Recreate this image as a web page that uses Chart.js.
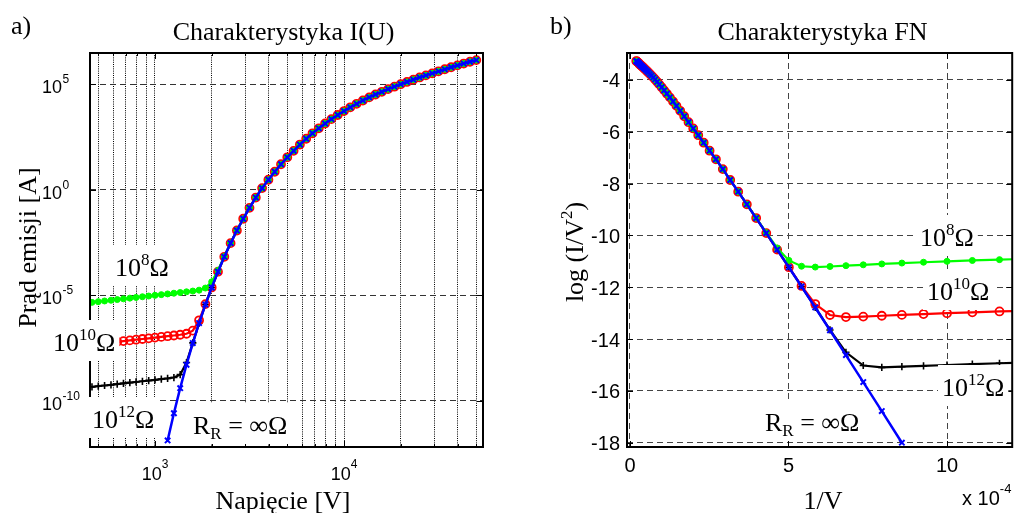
<!DOCTYPE html>
<html>
<head>
<meta charset="utf-8">
<script src="https://cdn.jsdelivr.net/npm/chart.js@4.4.1/dist/chart.umd.min.js"></script>
<style>
  html, body { margin: 0; padding: 0; background: #fff; width: 1018px; height: 513px; overflow: hidden; }
  canvas { position: absolute; top: 0; }
  #chartIU { left: 0; }
  #chartFN { left: 509px; }
</style>
</head>
<body>
<canvas id="chartIU" width="509" height="513"></canvas>
<canvas id="chartFN" width="509" height="513"></canvas>
<script>
// Voltage sweep [V]
const voltage = [464, 501, 541, 585, 631, 681, 736, 794, 858, 926,
  1000, 1080, 1166, 1259, 1359, 1468, 1585, 1711, 1848, 1995,
  2154, 2326, 2512, 2712, 2929, 3162, 3415, 3687, 3981, 4299,
  4642, 5012, 5412, 5843, 6310, 6813, 7356, 7943, 8577, 9261,
  10000, 10798, 11659, 12589, 13594, 14678, 15849, 17113, 18478, 19953,
  21544, 23263, 25119, 27123, 29286, 31623, 34145, 36869, 39811, 42987,
  46416, 50119];

// log10 of the emission current [A] for each leakage resistance R_R
const logI_R8 = [-5.333, -5.300, -5.267, -5.233, -5.200, -5.167, -5.133, -5.100, -5.067, -5.033,
  -5.000, -4.967, -4.933, -4.900, -4.867, -4.833, -4.798, -4.755, -4.655, -4.363,
  -3.817, -3.162, -2.526, -1.932, -1.377, -0.860, -0.373, 0.073, 0.470, 0.847,
  1.203, 1.530, 1.837, 2.133, 2.410, 2.667, 2.903, 3.130, 3.337, 3.533,
  3.720, 3.897, 4.063, 4.220, 4.367, 4.503, 4.630, 4.757, 4.873, 4.990,
  5.097, 5.203, 5.310, 5.407, 5.503, 5.600, 5.697, 5.793, 5.880, 5.967,
  6.053, 6.130];

const logI_R10 = [-7.333, -7.300, -7.267, -7.233, -7.200, -7.167, -7.133, -7.100, -7.067, -7.033,
  -7.000, -6.967, -6.933, -6.900, -6.866, -6.818, -6.671, -6.182, -5.416, -4.626,
  -3.882, -3.177, -2.530, -1.933, -1.377, -0.860, -0.373, 0.073, 0.470, 0.847,
  1.203, 1.530, 1.837, 2.133, 2.410, 2.667, 2.903, 3.130, 3.337, 3.533,
  3.720, 3.897, 4.063, 4.220, 4.367, 4.503, 4.630, 4.757, 4.873, 4.990,
  5.097, 5.203, 5.310, 5.407, 5.503, 5.600, 5.697, 5.793, 5.880, 5.967,
  6.053, 6.130];

const logI_R12 = [-9.333, -9.300, -9.267, -9.233, -9.200, -9.167, -9.133, -9.100, -9.067, -9.033,
  -9.000, -8.967, -8.933, -8.891, -8.754, -8.178, -7.248, -6.312, -5.437, -4.630,
  -3.883, -3.177, -2.530, -1.933, -1.377, -0.860, -0.373, 0.073, 0.470, 0.847,
  1.203, 1.530, 1.837, 2.133, 2.410, 2.667, 2.903, 3.130, 3.337, 3.533,
  3.720, 3.897, 4.063, 4.220, 4.367, 4.503, 4.630, 4.757, 4.873, 4.990,
  5.097, 5.203, 5.310, 5.407, 5.503, 5.600, 5.697, 5.793, 5.880, 5.967,
  6.053, 6.130];

const logI_Rinf = [null, null, null, null, null, null, null, null, null, null,
  null, null, -11.867, -10.580, -9.393, -8.287, -7.260, -6.313, -5.437, -4.630,
  -3.883, -3.177, -2.530, -1.933, -1.377, -0.860, -0.373, 0.073, 0.470, 0.847,
  1.203, 1.530, 1.837, 2.133, 2.410, 2.667, 2.903, 3.130, 3.337, 3.533,
  3.720, 3.897, 4.063, 4.220, 4.367, 4.503, 4.630, 4.757, 4.873, 4.990,
  5.097, 5.203, 5.310, 5.407, 5.503, 5.600, 5.697, 5.793, 5.880, 5.967,
  6.053, 6.130];

// Axis ticks
const xTicksIU = [500, 600, 700, 800, 900, 1000, 2000, 3000, 4000, 5000, 6000, 7000, 8000, 9000,
  10000, 20000, 30000, 40000, 50000];
const xLabelsIU = [1000, 10000];
const yTicksIU = [1e-10, 1e-5, 1, 1e5];
const xTicksFN = [0, 5, 10];
const yTicksFN = [-4, -6, -8, -10, -12, -14, -16, -18];

const SERIF = '"Liberation Serif", "Times New Roman", serif';
const SANS = '"Liberation Sans", Arial, sans-serif';

// I(U) point and Fowler-Nordheim point (1/V in units of 1e-4, log10(I/V^2))
function toPoints(logs, mode) {
  const pts = [];
  logs.forEach((li, i) => {
    if (li === null) return;
    const v = voltage[i];
    if (mode === 'IU') pts.push({ x: v, y: Math.pow(10, li) });
    else pts.push({ x: 1e4 / v, y: li - 2 * Math.log10(v) });
  });
  return pts;
}

// first entry is drawn on top
const SERIES = [
  { logs: logI_Rinf, color: '#0000ff', style: 'crossRot', radius: 3.8, fill: 'rgba(0,0,0,0)', line: 2.5, pw: 2 },
  { logs: logI_R8,   color: '#00ff00', style: 'circle',   radius: 3.0, fill: '#00ff00',       line: 2.2, pw: 1 },
  { logs: logI_R10,  color: '#ff0000', style: 'circle',   radius: 4.0, fill: 'rgba(0,0,0,0)', line: 2.2, pw: 1.8 },
  { logs: logI_R12,  color: '#000000', style: 'cross',    radius: 3.6, fill: 'rgba(0,0,0,0)', line: 2.2, pw: 1.6 }
];

function datasets(mode) {
  return SERIES.map(s => ({
    data: toPoints(s.logs, mode),
    borderColor: s.color,
    backgroundColor: s.fill,
    borderWidth: s.line,
    tension: 0,
    pointStyle: s.style,
    pointRadius: s.radius,
    pointHoverRadius: s.radius,
    pointBorderColor: s.color,
    pointBackgroundColor: s.fill,
    pointBorderWidth: s.pw
  }));
}

// ---- text helpers ----
function font(size, fam) { return size + 'px ' + fam; }

function richWidth(ctx, parts) {
  let w = 0;
  for (const p of parts) { ctx.font = p.font; w += ctx.measureText(p.t).width; }
  return w;
}

function drawRich(ctx, parts, x, y, align) {
  const w = richWidth(ctx, parts);
  let cx = align === 'center' ? x - w / 2 : align === 'right' ? x - w : x;
  ctx.textAlign = 'left';
  ctx.textBaseline = 'alphabetic';
  for (const p of parts) {
    ctx.font = p.font;
    ctx.fillText(p.t, cx, y + (p.dy || 0));
    cx += ctx.measureText(p.t).width;
  }
  return w;
}

function ohmLabel(exp) {
  return [
    { t: '10', font: font(26, SERIF) },
    { t: exp, font: font(17, SERIF), dy: -11 },
    { t: 'Ω', font: font(26, SERIF) }
  ];
}
function infLabel() {
  return [
    { t: 'R', font: font(26, SERIF) },
    { t: 'R', font: font(17, SERIF), dy: 5 },
    { t: ' = ∞Ω', font: font(26, SERIF) }
  ];
}

// text on a white background box
function boxedLabel(ctx, parts, x, y) {
  const w = richWidth(ctx, parts);
  ctx.fillStyle = '#fff';
  ctx.fillRect(x - 4, y - 31, w + 8, 41);
  ctx.fillStyle = '#000';
  drawRich(ctx, parts, x, y, 'left');
}

function frame(chart) {
  const { ctx, chartArea: a } = chart;
  ctx.strokeStyle = '#000';
  ctx.lineWidth = 2;
  ctx.setLineDash([]);
  ctx.strokeRect(a.left, a.top, a.right - a.left, a.bottom - a.top);
}

function innerTicks(chart, xList, yList) {
  const { ctx, chartArea: a, scales } = chart;
  ctx.strokeStyle = '#000';
  ctx.lineWidth = 1;
  ctx.setLineDash([]);
  ctx.beginPath();
  for (const t of xList) {
    const px = Math.round(scales.x.getPixelForValue(t.v)) + 0.5;
    ctx.moveTo(px, a.bottom); ctx.lineTo(px, a.bottom - t.len);
    ctx.moveTo(px, a.top); ctx.lineTo(px, a.top + t.len);
  }
  for (const t of yList) {
    const py = Math.round(scales.y.getPixelForValue(t.v)) + 0.5;
    ctx.moveTo(a.left, py); ctx.lineTo(a.left + t.len, py);
    ctx.moveTo(a.right, py); ctx.lineTo(a.right - t.len, py);
  }
  ctx.stroke();
}

function rotatedText(ctx, parts, x, y) {
  ctx.save();
  ctx.translate(x, y);
  ctx.rotate(-Math.PI / 2);
  drawRich(ctx, parts, 0, 0, 'center');
  ctx.restore();
}

// ---- panel a) decorations ----
const decorIU = {
  id: 'decorIU',
  afterDraw(chart) {
    const ctx = chart.ctx;
    const xs = chart.scales.x, ys = chart.scales.y;
    ctx.save();
    frame(chart);
    innerTicks(chart,
      xTicksIU.map(v => ({ v, len: xLabelsIU.includes(v) ? 6 : 3 })),
      yTicksIU.map(v => ({ v, len: 6 })));

    ctx.fillStyle = '#000';
    // y tick labels 10^n
    for (const v of yTicksIU) {
      const py = ys.getPixelForValue(v);
      const e = String(Math.round(Math.log10(v)));
      ctx.textBaseline = 'alphabetic';
      ctx.font = font(18, SANS);
      ctx.textAlign = 'right';
      ctx.fillText('10', 62, py + 9);
      ctx.font = font(12, SANS);
      ctx.textAlign = 'left';
      ctx.fillText(e, 62.5, py - 1);
    }
    // x tick labels 10^n
    for (const v of xLabelsIU) {
      const px = xs.getPixelForValue(v);
      const e = String(Math.round(Math.log10(v)));
      drawRich(ctx, [
        { t: '10', font: font(18, SANS) },
        { t: e, font: font(12, SANS), dy: -12 }
      ], px, 480, 'center');
    }
    // titles
    drawRich(ctx, [{ t: 'a)', font: font(26, SERIF) }], 11, 34, 'left');
    drawRich(ctx, [{ t: 'Charakterystyka I(U)', font: font(26, SERIF) }], 283.5, 40, 'center');
    drawRich(ctx, [{ t: 'Napięcie [V]', font: font(26, SERIF) }], 283, 509, 'center');
    rotatedText(ctx, [{ t: 'Prąd emisji [A]', font: font(26, SERIF) }], 36, 247.5);

    // curve labels
    boxedLabel(ctx, ohmLabel('8'), 115, 276);
    boxedLabel(ctx, ohmLabel('10'), 53, 351);
    boxedLabel(ctx, ohmLabel('12'), 92, 428);
    boxedLabel(ctx, infLabel(), 193, 434);
    ctx.restore();
  }
};

// ---- panel b) decorations ----
const decorFN = {
  id: 'decorFN',
  afterDraw(chart) {
    const ctx = chart.ctx;
    const xs = chart.scales.x, ys = chart.scales.y;
    ctx.save();
    frame(chart);
    innerTicks(chart,
      xTicksFN.map(v => ({ v, len: 6 })),
      yTicksFN.map(v => ({ v, len: 6 })));

    ctx.fillStyle = '#000';
    ctx.font = font(20, SANS);
    ctx.textBaseline = 'alphabetic';
    for (const v of yTicksFN) {
      ctx.textAlign = 'right';
      ctx.fillText(String(v), 111, ys.getPixelForValue(v) + 7.5);
    }
    for (const v of xTicksFN) {
      ctx.textAlign = 'center';
      ctx.fillText(String(v), xs.getPixelForValue(v), 472);
    }
    drawRich(ctx, [
      { t: 'x 10', font: font(20, SANS) },
      { t: '-4', font: font(13, SANS), dy: -12 }
    ], 453, 505, 'left');

    drawRich(ctx, [{ t: 'b)', font: font(26, SERIF) }], 41, 34, 'left');
    drawRich(ctx, [{ t: 'Charakterystyka FN', font: font(26, SERIF) }], 313.5, 40, 'center');
    drawRich(ctx, [{ t: '1/V', font: font(26, SERIF) }], 314, 509, 'center');
    rotatedText(ctx, [
      { t: 'log (I/V', font: font(26, SERIF) },
      { t: '2', font: font(17, SERIF), dy: -11 },
      { t: ')', font: font(26, SERIF) }
    ], 74, 252);

    boxedLabel(ctx, ohmLabel('8'), 411, 246);
    boxedLabel(ctx, ohmLabel('10'), 418, 300);
    boxedLabel(ctx, ohmLabel('12'), 433, 396);
    boxedLabel(ctx, infLabel(), 256, 431);
    ctx.restore();
  }
};

function common(padding) {
  return {
    responsive: false,
    animation: false,
    devicePixelRatio: 1,
    events: [],
    layout: { padding },
    plugins: { legend: { display: false }, tooltip: { enabled: false } }
  };
}

// panel a) I(U) on log-log axes
new Chart(document.getElementById('chartIU'), {
  type: 'line',
  data: { datasets: datasets('IU') },
  options: Object.assign(common({ left: 0, top: 53, right: 26, bottom: 0 }), {
    scales: {
      x: {
        type: 'logarithmic', min: 453, max: 54380,
        afterFit: s => { s.height = 66; },
        afterBuildTicks: s => { s.ticks = xTicksIU.map(v => ({ value: v })); },
        ticks: { display: false },
        grid: { color: '#000', lineWidth: 1, drawTicks: false },
        border: { display: false, dash: [1, 1.2] }
      },
      y: {
        type: 'logarithmic', min: Math.pow(10, -12.177), max: Math.pow(10, 6.467),
        afterFit: s => { s.width = 90; },
        afterBuildTicks: s => { s.ticks = yTicksIU.map(v => ({ value: v })); },
        ticks: { display: false },
        grid: { color: '#333', lineWidth: 1, drawTicks: false },
        border: { display: false, dash: [6, 4] }
      }
    }
  }),
  plugins: [decorIU]
});

// panel b) Fowler-Nordheim plot
new Chart(document.getElementById('chartFN'), {
  type: 'line',
  data: { datasets: datasets('FN') },
  options: Object.assign(common({ left: 0, top: 53, right: 1, bottom: 0 }), {
    scales: {
      x: {
        type: 'linear', min: -0.093, max: 12.056,
        afterFit: s => { s.height = 66; },
        afterBuildTicks: s => { s.ticks = xTicksFN.map(v => ({ value: v })); },
        ticks: { display: false },
        grid: { color: '#444', lineWidth: 1, drawTicks: false },
        border: { display: false, dash: [6, 4] }
      },
      y: {
        type: 'linear', min: -18.166, max: -2.958,
        afterFit: s => { s.width = 118; },
        afterBuildTicks: s => { s.ticks = yTicksFN.map(v => ({ value: v })); },
        ticks: { display: false },
        grid: { color: '#444', lineWidth: 1, drawTicks: false },
        border: { display: false, dash: [6, 4] }
      }
    }
  }),
  plugins: [decorFN]
});
</script>
</body>
</html>
